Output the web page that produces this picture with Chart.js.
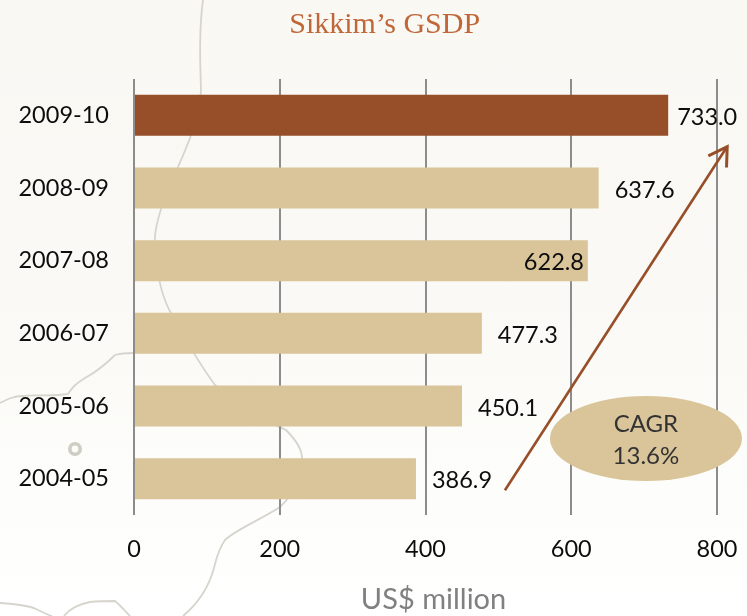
<!DOCTYPE html>
<html><head><meta charset="utf-8">
<script src="https://cdn.jsdelivr.net/npm/chart.js@4"></script>
<style>
html,body{margin:0;padding:0;width:747px;height:616px;overflow:hidden;background:linear-gradient(180deg,#f9f8f3 0%,#faf9f5 50%,#fdfdfb 80%,#ffffff 100%);}
#map{position:absolute;left:0;top:0;}
#wrap{position:absolute;left:0;top:0;width:747px;height:616px;}
</style></head><body>
<svg id="map" width="747" height="616" fill="none" stroke="#d6d4cd" stroke-width="1.8">
<path d="M203 0C199 30 200 60 201 90C200 115 190 140 178 167C165 195 153 225 155 245C156 275 163 300 172 315C180 330 200 365 215 385C240 410 275 425 286 430C296 440 302 450 302 458C302 480 295 492 280 507C260 520 235 530 225 540C218 550 216 560 214 568C208 590 195 606 183 616"/>
<path d="M0 403C8 399 14 396 22 396C35 394 50 397 68 394C72 388 75 384 85 378C100 370 108 362 115 355C122 353 128 353 134 353"/>
<path d="M0 603C15 604 28 605 36 609C42 612 48 615 52 616M64 616C70 608 80 604 90 602C100 601 108 601 115 601C120 605 125 611 130 616"/>
<circle cx="75" cy="449" r="5.2" stroke="#cfcdc4" stroke-width="3.6"/>
</svg>
<div id="wrap"><canvas id="c" width="747" height="616"></canvas></div>
<script>
const categories = ["2009-10","2008-09","2007-08","2006-07","2005-06","2004-05"];
const gsdp = [733.0,637.6,622.8,477.3,450.1,386.9];
const labelNudge = [9,16,-64,16,16,16];
const xTicks = [0,200,400,600,800];
const titleText = "Sikkim\u2019s GSDP";
const axisTitle = "US$ million";
const ovalLines = ["CAGR","13.6%"];
const barColors = ["#964f28","#d9c599","#d9c599","#d9c599","#d9c599","#d9c599"];
const sans = "Lato, Carlito, sans-serif";

const overlay = {
  id:"overlay",
  afterDatasetsDraw(ch){
    const c=ch.ctx,x=ch.scales.x,y=ch.scales.y;
    const d=ch.getDatasetMeta(0).data;
    c.save();
    c.font="23.5px "+sans;c.fillStyle="#0d0d0d";c.textBaseline="middle";c.textAlign="left";
    d.forEach((b,i)=>{c.fillText(gsdp[i].toFixed(1),b.x+labelNudge[i],b.y+2);});
    const ax=x.getPixelForValue(509),ay=y.getPixelForValue(5.16),bx=x.getPixelForValue(814),by=y.getPixelForValue(0.43);
    c.strokeStyle="#964f28";c.lineWidth=2.6;
    c.beginPath();c.moveTo(ax,ay);c.lineTo(bx,by);c.stroke();
    const t=Math.atan2(by-ay,bx-ax),L=21;
    c.lineWidth=3;
    c.beginPath();c.moveTo(bx+L*Math.cos(t+2.6),by+L*Math.sin(t+2.6));c.lineTo(bx,by);c.lineTo(bx+L*Math.cos(t-2.6),by+L*Math.sin(t-2.6));c.stroke();
    const ox=x.getPixelForValue(702.5),oy=y.getPixelForValue(4.447);
    c.fillStyle="#d9c599";c.beginPath();c.ellipse(ox,oy,96,42.5,0,0,Math.PI*2);c.fill();
    c.fillStyle="#333333";c.textAlign="center";c.font="24px "+sans;
    c.fillText(ovalLines[0],ox,oy-14);c.fillText(ovalLines[1],ox,oy+18);
    c.fillStyle="#c0673a";c.font="30px 'Liberation Serif', serif";
    c.fillText(titleText,x.getPixelForValue(344),25);
    c.fillStyle="#808080";c.font="29px "+sans;
    c.fillText(axisTitle,x.getPixelForValue(411),600);
    c.restore();
  }
};
new Chart(document.getElementById("c"),{
  type:"bar",
  data:{labels:categories,datasets:[{data:gsdp,backgroundColor:barColors,barPercentage:0.565,categoryPercentage:1}]},
  plugins:[overlay],
  options:{
    indexAxis:"y",responsive:false,animation:false,
    layout:{padding:{left:0,right:30,top:79,bottom:0}},
    plugins:{legend:{display:false},tooltip:{enabled:false},title:{display:false}},
    scales:{
      x:{min:0,max:800,afterBuildTicks(a){a.ticks=xTicks.map(v=>({value:v}));},
        afterFit(a){a.height=101;a.paddingRight=0;a.paddingLeft=0;},
        grid:{color:"#8c8c8c",lineWidth:2,drawTicks:false},border:{display:false},
        ticks:{color:"#0d0d0d",font:{family:sans,size:23.5},padding:20,maxRotation:0}},
      y:{afterFit(a){a.width=134;},
        grid:{display:false,drawTicks:false},border:{display:false},
        ticks:{color:"#0d0d0d",font:{family:sans,size:23.5},padding:25}}
    }
  }
});
</script>
</body></html>
